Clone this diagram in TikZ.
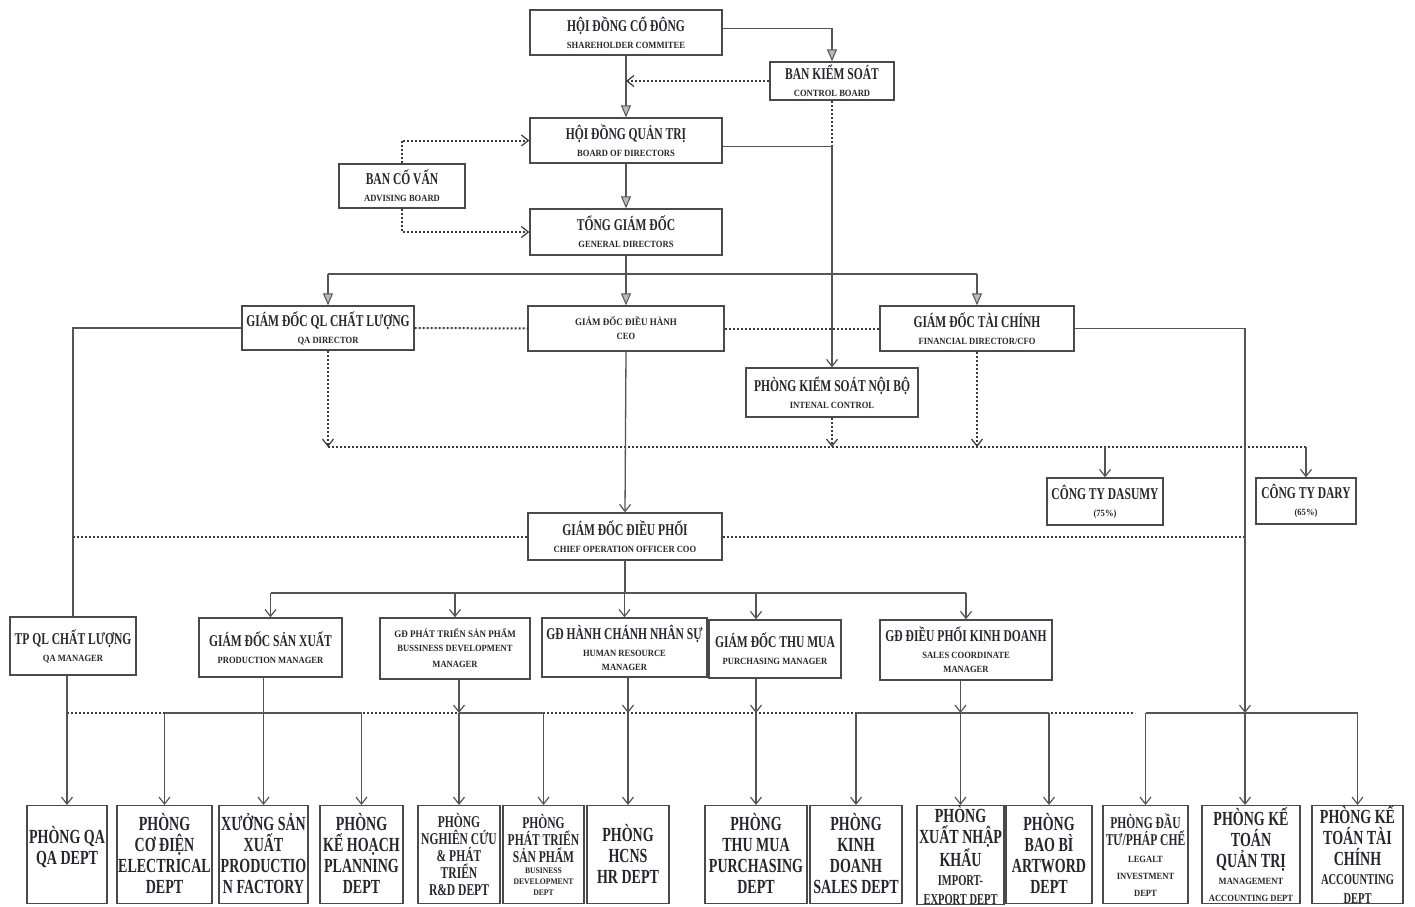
\documentclass[tikz,border=0pt]{standalone}
\usepackage{fontspec}
\newfontfamily\ocf{Liberation Serif}[FakeStretch=0.7]
\newfontfamily\ocw{Liberation Serif}[FakeStretch=0.9]
\usetikzlibrary{arrows.meta}
\definecolor{ln}{HTML}{555555}
\definecolor{dl}{HTML}{3A3A3A}
\definecolor{bd}{HTML}{4A4A4A}
\definecolor{tx}{HTML}{26262E}
\newcommand\fT{\ocf\fontsize{16.5}{18}\selectfont}
\newcommand\fS{\ocw\fontsize{9.5}{17}\selectfont}
\newcommand\fSn{\ocw\fontsize{9.5}{14}\selectfont}
\newcommand\fSa{\ocw\fontsize{10}{12}\selectfont}
\newcommand\fD{\ocf\fontsize{20}{21}\selectfont}
\newcommand\fM{\ocf\fontsize{16.5}{17}\selectfont}
\newcommand\fDm{\ocf\fontsize{15}{19}\selectfont}
\newcommand\fDs{\ocw\fontsize{8.5}{11}\selectfont}
\newcommand\fDt{\ocw\fontsize{9.5}{17}\selectfont}
\newcommand\bx[2]{\parbox{#1}{\centering #2\par}}
\begin{document}
\begin{tikzpicture}[x=1pt,y=-1pt,
  box/.style={draw=bd, line width=1.4pt, fill=white, text=tx, inner sep=0pt, font=\bfseries},
  dept/.style={box, anchor=north, minimum height=98pt},
  con/.style={draw=ln, line width=1.3pt},
  dot/.style={draw=dl, line width=2pt, dash pattern=on 2pt off 2pt},
  farr/.style={-{Triangle[length=12pt,width=10pt,fill=gray!55,line width=1pt]}},
  oarr/.style={-{Straight Barb[length=7pt,width=11pt,line width=1.2pt]}}]
\clip (0,0) rectangle (1415,906);
\fill[white] (0,0) rectangle (1415,906);

% ---------- top nodes ----------
\node[box, minimum width=192pt, minimum height=45pt] (sh) at (626,32.5) {\bx{190pt}{\fT HỘI ĐỒNG CỔ ĐÔNG\\\fS SHAREHOLDER COMMITEE}};
\node[box, minimum width=124pt, minimum height=38pt] (cb) at (832,81) {\bx{122pt}{\fT BAN KIỂM SOÁT\\\fS CONTROL BOARD}};
\node[box, minimum width=192pt, minimum height=45pt] (bod) at (626,140.5) {\bx{190pt}{\fT HỘI ĐỒNG QUẢN TRỊ\\\fS BOARD OF DIRECTORS}};
\node[box, minimum width=126pt, minimum height=44pt] (adv) at (402,186) {\bx{124pt}{\fT BAN CỐ VẤN\\\fS ADVISING BOARD}};
\node[box, minimum width=192pt, minimum height=46pt] (gd) at (626,232) {\bx{190pt}{\fT TỔNG GIÁM ĐỐC\\\fS GENERAL DIRECTORS}};
\node[box, minimum width=172pt, minimum height=44pt] (qad) at (328,328) {\bx{170pt}{\fT GIÁM ĐỐC QL CHẤT LƯỢNG\\\fS QA DIRECTOR}};
\node[box, minimum width=196pt, minimum height=45pt] (ceo) at (626,328.5) {\bx{194pt}{\fSa GIÁM ĐỐC ĐIỀU HÀNH\\\fSn CEO}};
\node[box, minimum width=194pt, minimum height=45pt] (cfo) at (977,328.5) {\bx{192pt}{\fT GIÁM ĐỐC TÀI CHÍNH\\\fS FINANCIAL DIRECTOR/CFO}};
\node[box, minimum width=172pt, minimum height=49pt] (ic) at (832,392.5) {\bx{170pt}{\fT PHÒNG KIỂM SOÁT NỘI BỘ\\\fS INTENAL CONTROL}};
\node[box, minimum width=116pt, minimum height=47pt] (das) at (1105,501.5) {\bx{114pt}{\fT CÔNG TY DASUMY\\\fS (75\%)}};
\node[box, minimum width=100pt, minimum height=46pt] (dary) at (1306,501) {\bx{98pt}{\fT CÔNG TY DARY\\\fS (65\%)}};
\node[box, minimum width=194pt, minimum height=47pt] (coo) at (625,536.5) {\bx{192pt}{\fT GIÁM ĐỐC ĐIỀU PHỐI\\\fS CHIEF OPERATION OFFICER COO}};

% ---------- managers ----------
\node[box, minimum width=126pt, minimum height=58pt] (qam) at (73,646) {\bx{124pt}{\fT TP QL CHẤT LƯỢNG\\\fS QA MANAGER}};
\node[box, minimum width=143pt, minimum height=59pt] (pm) at (270.5,647.5) {\bx{141pt}{\fT GIÁM ĐỐC SẢN XUẤT\\\fS PRODUCTION MANAGER}};
\node[box, minimum width=150pt, minimum height=61pt] (bdm) at (455,648.5) {\bx{148pt}{\fSa GĐ PHÁT TRIỂN SẢN PHẨM\\\fSn BUSSINESS DEVELOPMENT\\[2pt]MANAGER}};
\node[box, minimum width=165pt, minimum height=59pt] (hrm) at (624.5,647.5) {\bx{163pt}{\fT GĐ HÀNH CHÁNH NHÂN SỰ\\\fS HUMAN RESOURCE\\\fSn MANAGER}};
\node[box, minimum width=132pt, minimum height=58pt] (pum) at (775,649) {\bx{130pt}{\fT GIÁM ĐỐC THU MUA\\\fS PURCHASING MANAGER}};
\node[box, minimum width=172pt, minimum height=60pt] (scm) at (966,650) {\bx{170pt}{\fT GĐ ĐIỀU PHỐI KINH DOANH\\\fS SALES COORDINATE\\\fSn MANAGER}};

% ---------- departments ----------
\node[dept, minimum width=80pt] (dqa) at (67,805) {\bx{78pt}{\fD PHÒNG QA\\QA DEPT\\[16pt]}};
\node[dept, minimum width=95pt] (dcd) at (164.5,805) {\bx{93pt}{\fD PHÒNG\\CƠ ĐIỆN\\ELECTRICAL\\DEPT\\[2pt]}};
\node[dept, minimum width=89pt] (dxu) at (263.5,805) {\bx{88pt}{\fD XƯỞNG SẢN\\XUẤT\\PRODUCTIO\\N FACTORY\\[2pt]}};
\node[dept, minimum width=83pt] (dkh) at (361.5,805) {\bx{81pt}{\fD PHÒNG\\KẾ HOẠCH\\PLANNING\\DEPT\\[2pt]}};
\node[dept, minimum width=82pt] (dnc) at (459,805) {\bx{81pt}{\fM PHÒNG\\NGHIÊN CỨU\\\& PHÁT\\TRIỂN\\R\&D DEPT}};
\node[dept, minimum width=81pt] (dpt) at (543.5,805) {\bx{79pt}{\fM PHÒNG\\PHÁT TRIỂN\\SẢN PHẨM\\\fDs BUSINESS\\DEVELOPMENT\\DEPT}};
\node[dept, minimum width=82pt] (dhc) at (628,805) {\bx{80pt}{\fD PHÒNG\\HCNS\\HR DEPT\\[2pt]}};
\node[dept, minimum width=102pt] (dtm) at (756,805) {\bx{100pt}{\fD PHÒNG\\THU MUA\\PURCHASING\\DEPT\\[2pt]}};
\node[dept, minimum width=92pt] (dkd) at (856,805) {\bx{90pt}{\fD PHÒNG\\KINH\\DOANH\\SALES DEPT\\[2pt]}};
\node[dept, minimum width=87pt] (dxn) at (960.5,805) {\bx{86pt}{\fD PHÒNG\\XUẤT NHẬP\\KHẨU\\\fDm IMPORT-\\EXPORT DEPT}};
\node[dept, minimum width=86pt] (dbb) at (1049,805) {\bx{84pt}{\fD PHÒNG\\BAO BÌ\\ARTWORD\\DEPT\\[2pt]}};
\node[dept, minimum width=85pt] (ddt) at (1145.5,805) {\bx{83pt}{\fM PHÒNG ĐẦU\\TƯ/PHÁP CHẾ\\\fDt LEGALT\\INVESTMENT\\DEPT}};
\node[dept, minimum width=98pt] (dqt) at (1251,805) {\bx{96pt}{\fD PHÒNG KẾ\\TOÁN\\QUẢN TRỊ\\\fDt MANAGEMENT\\ACCOUNTING DEPT}};
\node[dept, minimum width=91pt] (dtc) at (1357.5,805) {\bx{89pt}{\fD PHÒNG KẾ\\TOÁN TÀI\\CHÍNH\\\fDm ACCOUNTING\\DEPT}};

% ---------- helper coordinates ----------
\coordinate (gbar) at (626,274);
\coordinate (sbar) at (0,447);
\coordinate (cbar) at (0,593);
\coordinate (dbar) at (0,713);
\coordinate (cfoL) at (1245,0);
\coordinate (dotend) at (1135,713);
\coordinate (bodR) at ([yshift=-6pt]bod.east);

% ---------- top connectors ----------
\draw[con,farr] ([yshift=4pt]sh.east) -| (cb.north);
\draw[con,farr] (sh.south) -- (bod.north);
\draw[dot,oarr] (cb.west) -- (cb.west -| sh.south);
\draw[dot] (cb.south) -- (cb.south |- bodR);
\draw[con,oarr] (bodR) -| (ic.north);
\draw[dot,oarr] (adv.north) |- (bod.west);
\draw[dot,oarr] (adv.south) |- (gd.west);
\draw[con,farr] (bod.south) -- (gd.north);
\draw[con,farr] (gd.south) -- (ceo.north);
\draw[con] (qad.north |- gbar) -- (cfo.north |- gbar);
\draw[con,farr] (qad.north |- gbar) -- (qad.north);
\draw[con,farr] (cfo.north |- gbar) -- (cfo.north);
\draw[dot] (qad.east) -- (ceo.west);
\draw[dot] (ceo.east) -- (cfo.west);

% ---------- middle connectors ----------
\draw[dot] (qad.south |- sbar) -- (dary.north |- sbar);
\draw[dot,oarr] (qad.south) -- (qad.south |- sbar);
\draw[dot,oarr] (ic.south) -- (ic.south |- sbar);
\draw[dot,oarr] (cfo.south) -- (cfo.south |- sbar);
\draw[con,oarr] (das.north |- sbar) -- (das.north);
\draw[con,oarr] (dary.north |- sbar) -- (dary.north);
\draw[con,oarr] (ceo.south) -- (coo.north);
\draw[con] (qad.west) -| (qam.north);
\draw[dot] (qam.north |- coo.west) -- (coo.west);
\draw[dot] (coo.east) -- (cfoL |- coo.east);

% ---------- COO to managers ----------
\draw[con] (coo.south) -- (coo.south |- cbar);
\draw[con] (pm.north |- cbar) -- (scm.north |- cbar);
\draw[con,oarr] (pm.north |- cbar) -- (pm.north);
\draw[con,oarr] (bdm.north |- cbar) -- (bdm.north);
\draw[con,oarr] (hrm.north |- cbar) -- (hrm.north);
\draw[con,oarr] (dtm.north |- cbar) -- (dtm.north |- pum.north);
\draw[con,oarr] (scm.north |- cbar) -- (scm.north);

% ---------- managers to departments ----------
\draw[dot] (dqa.north |- dbar) -- (dotend);
\draw[con,oarr] (qam.south -| dqa.north) -- (dqa.north);
% production
\draw[con] (dcd.north |- dbar) -- (dkh.north |- dbar);
\draw[con,oarr] (pm.south -| dxu.north) -- (dxu.north);
\draw[con,oarr] (dcd.north |- dbar) -- (dcd.north);
\draw[con,oarr] (dkh.north |- dbar) -- (dkh.north);
% business development
\draw[con] (dnc.north |- dbar) -- (dpt.north |- dbar);
\draw[con,oarr] (bdm.south -| dnc.north) -- (dnc.north |- dbar);
\draw[con,oarr] (dnc.north |- dbar) -- (dnc.north);
\draw[con,oarr] (dpt.north |- dbar) -- (dpt.north);
% HR
\draw[con,oarr] (hrm.south -| dhc.north) -- (dhc.north |- dbar);
\draw[con,oarr] (dhc.north |- dbar) -- (dhc.north);
% purchasing
\draw[con,oarr] (pum.south -| dtm.north) -- (dtm.north |- dbar);
\draw[con,oarr] (dtm.north |- dbar) -- (dtm.north);
% sales
\draw[con] (dkd.north |- dbar) -- (dbb.north |- dbar);
\draw[con,oarr] (scm.south -| dxn.north) -- (dxn.north |- dbar);
\draw[con,oarr] (dkd.north |- dbar) -- (dkd.north);
\draw[con,oarr] (dxn.north |- dbar) -- (dxn.north);
\draw[con,oarr] (dbb.north |- dbar) -- (dbb.north);
% finance
\draw[con,oarr] (cfo.east) -| (cfoL |- dbar);
\draw[con] (ddt.north |- dbar) -- (dtc.north |- dbar);
\draw[con,oarr] (ddt.north |- dbar) -- (ddt.north);
\draw[con,oarr] (cfoL |- dbar) -- (cfoL |- dqt.north);
\draw[con,oarr] (dtc.north |- dbar) -- (dtc.north);
\end{tikzpicture}
\end{document}
